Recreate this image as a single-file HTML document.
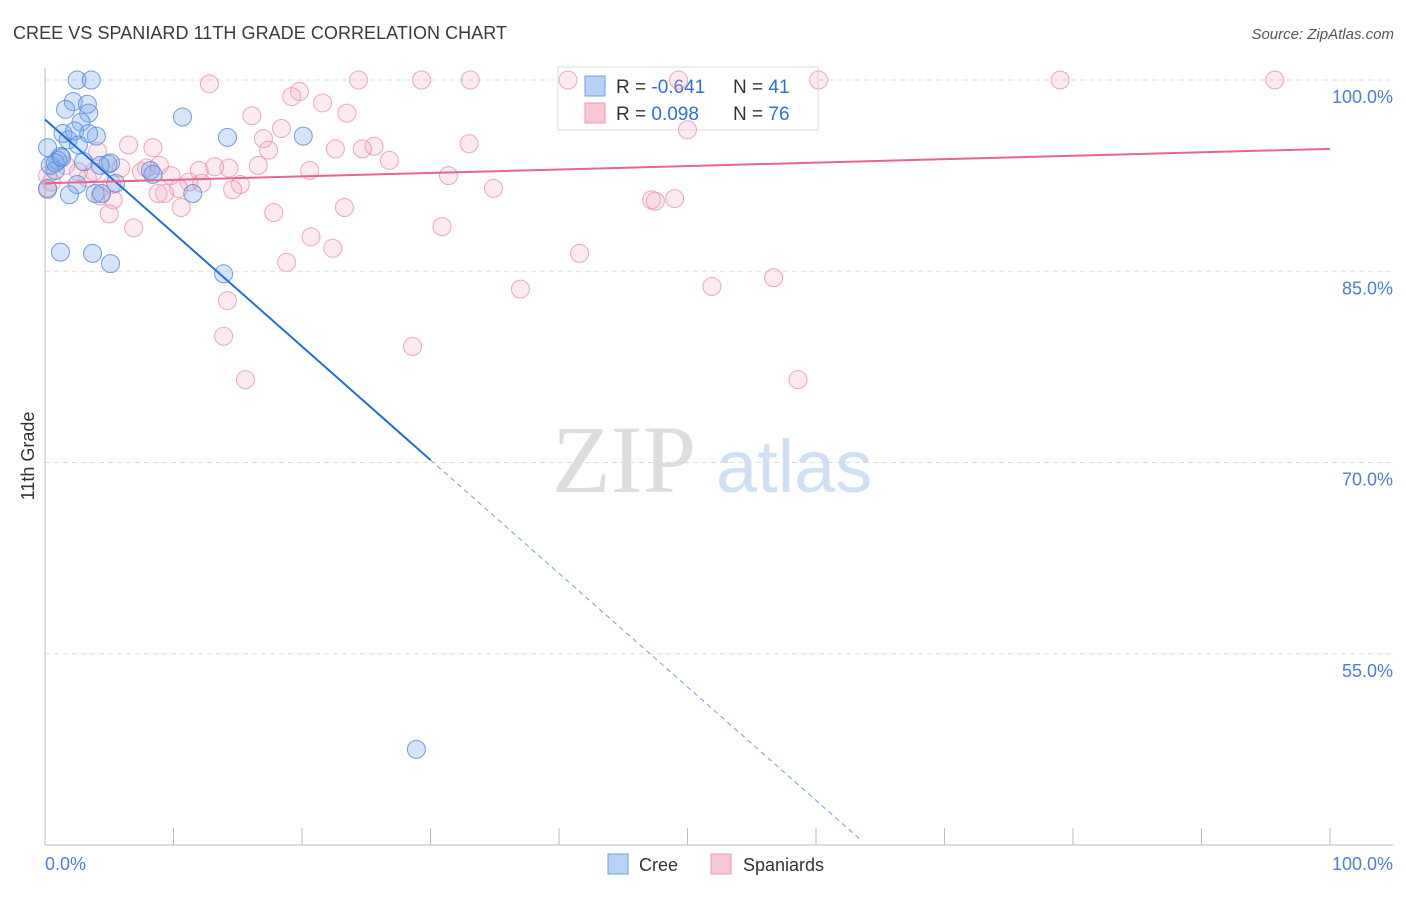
<!DOCTYPE html>
<html><head><meta charset="utf-8"><style>
body{margin:0;background:#fff;font-family:"Liberation Sans",sans-serif;}
</style></head><body>
<svg id="c" width="1406" height="892" xmlns="http://www.w3.org/2000/svg" font-family="Liberation Sans, sans-serif">
<text x="13" y="39" font-size="18" fill="#3a3a3a" textLength="494">CREE VS SPANIARD 11TH GRADE CORRELATION CHART</text>
<text x="1394" y="39" font-size="15" fill="#555" font-style="italic" text-anchor="end">Source: ZipAtlas.com</text>
<g>
<text x="552" y="492" font-size="96" fill="#ddd" style="font-family:'Liberation Serif',serif">ZIP</text>
<text x="716" y="492" font-size="74" fill="#cfe0f5">atlas</text>
</g>
<g id="grid"></g>
<g id="axes"></g>
<g>
<rect x="558" y="67" width="260" height="63" fill="#fff" stroke="#ddd"/>
<rect x="585" y="76" width="20" height="20" fill="#b8d2f5" stroke="#6f9fe0"/>
<rect x="585" y="103" width="20" height="20" fill="#f9c6d6" stroke="#eb99b5"/>
<text x="616" y="93" font-size="19" fill="#333">R = <tspan fill="#2f6fd8">-0.641</tspan></text>
<text x="733" y="93" font-size="19" fill="#333">N = <tspan fill="#2f6fd8">41</tspan></text>
<text x="616" y="120" font-size="19" fill="#333">R = <tspan fill="#2f6fd8"> 0.098</tspan></text>
<text x="733" y="120" font-size="19" fill="#333">N = <tspan fill="#2f6fd8">76</tspan></text>
</g>
<g id="pts"></g>
<g id="lines"></g>
<text x="34" y="456" font-size="18" fill="#333" transform="rotate(-90 34 456)" text-anchor="middle">11th Grade</text>
<text x="45" y="870" font-size="18" fill="#4a7fd4">0.0%</text>
<text x="1393" y="870" font-size="18" fill="#4a7fd4" text-anchor="end">100.0%</text>
<g>
<rect x="608" y="854" width="20" height="20" fill="#b8d2f5" stroke="#6f9fe0"/>
<text x="639" y="871" font-size="18" fill="#333">Cree</text></g>
<g>
<rect x="711" y="854" width="20" height="20" fill="#f9c6d6" stroke="#eb99b5"/>
<text x="743" y="871" font-size="18" fill="#333">Spaniards</text></g>
</svg>
<script>
const yTicks=[100,85,70,55];
const yTickLabels=["100.0%","85.0%","70.0%","55.0%"];
const xTicks=[10,20,30,40,50,60,70,80,90,100];
const creeX=[2.5,3.6,2.2,3.3,1.6,3.4,10.7,2.8,1.4,2.3,4.0,3.4,14.2,20.1,1.8,2.6,0.2,1.2,1.0,3.0,4.9,0.4,0.8,8.2,8.4,5.5,2.5,1.9,3.9,4.4,11.5,0.2,1.2,3.7,5.1,13.9,28.9,0.8,1.3,5.1,4.3];
const creeY=[100,100,98.3,98.1,97.7,97.4,97.1,96.7,95.8,96.0,95.6,95.8,95.5,95.6,95.3,94.9,94.7,94.0,93.7,93.6,93.4,93.3,92.9,92.9,92.6,91.9,91.8,91.0,91.1,91.1,91.1,91.5,86.5,86.4,85.6,84.8,47.5,93.5,93.9,93.5,93.3];
const spanX=[12.8,24.4,29.3,33.1,40.7,49.3,60.2,79.0,95.7,19.8,19.2,21.6,16.1,23.5,18.4,17.0,25.6,17.4,22.6,24.7,26.8,6.5,8.4,4.1,33.0,50.0,34.9,31.4,20.6,14.3,12.0,13.2,16.6,9.8,7.9,5.9,7.5,11.2,12.2,15.2,14.6,10.4,9.3,8.8,5.2,3.3,2.6,1.6,4.3,5.3,10.6,23.3,17.8,5.0,30.9,20.7,6.9,22.4,41.6,18.8,47.2,47.5,49.0,14.2,13.9,37.0,51.9,56.7,28.6,15.6,58.6,0.2,0.5,0.2,8.9,3.8];
const spanY=[99.7,100,100,100,100,100,100,100,100,99.1,98.7,98.2,97.2,97.4,96.2,95.4,94.8,94.5,94.6,94.6,93.7,94.9,94.7,94.4,95.0,96.1,91.5,92.5,92.9,93.1,92.9,93.2,93.3,92.5,93.1,93.1,92.8,92.0,91.9,91.8,91.4,91.5,91.1,91.1,91.8,92.3,92.8,93.3,90.9,90.6,90.0,90.0,89.6,89.5,88.5,87.7,88.4,86.8,86.4,85.7,90.6,90.5,90.7,82.7,79.9,83.6,83.8,84.5,79.1,76.5,76.5,91.4,92.0,92.5,93.3,92.8];
const creeTrend=[96.9,-0.89];
const creeSolidEnd=30, creeDashEnd=63.4;
const spanTrend=[91.9,0.027];
const NS="http://www.w3.org/2000/svg";
const sx=v=>45+v*12.85, sy=v=>80+(100-v)*12.75;
function mk(t,a,p){const e=document.createElementNS(NS,t);for(const k in a)e.setAttribute(k,a[k]);p.appendChild(e);return e;}
const grid=document.getElementById('grid'),axes=document.getElementById('axes'),pts=document.getElementById('pts'),lines=document.getElementById('lines');
yTicks.forEach((t,i)=>{
 const l=mk('line',{x1:45,x2:1393,y1:sy(t),y2:sy(t),stroke:'#ddd','stroke-dasharray':'5,4'},grid);
 
 
 const tx=mk('text',{x:1393,y:sy(t)+23,'font-size':18,fill:'#4a7fd4','text-anchor':'end'},grid);
 tx.textContent=yTickLabels[i];
 
 
});
mk('line',{x1:45,x2:45,y1:68,y2:845,stroke:'#bbb'},axes);
mk('line',{x1:45,x2:1393,y1:845,y2:845,stroke:'#bbb'},axes);
xTicks.forEach(t=>{
 const l=mk('line',{x1:sx(t),x2:sx(t),y1:828,y2:845,stroke:'#bbb'},axes);
 
 
});
spanX.forEach((x,i)=>{
 const c=mk('circle',{cx:sx(x),cy:sy(spanY[i]),r:9,fill:'rgba(243,170,195,0.25)',stroke:'rgba(232,130,165,0.7)','stroke-width':1},pts);
 
 
});
creeX.forEach((x,i)=>{
 const c=mk('circle',{cx:sx(x),cy:sy(creeY[i]),r:9,fill:'rgba(120,165,235,0.3)',stroke:'rgba(80,135,215,0.8)','stroke-width':1},pts);
 
 
});
const cf=x=>creeTrend[0]+creeTrend[1]*x, pf=x=>spanTrend[0]+spanTrend[1]*x;
let l1=mk('line',{x1:sx(0),y1:sy(cf(0)),x2:sx(creeSolidEnd),y2:sy(cf(creeSolidEnd)),stroke:'#1f6fd6','stroke-width':2},lines);


let l2=mk('line',{x1:sx(creeSolidEnd),y1:sy(cf(creeSolidEnd)),x2:sx(creeDashEnd),y2:sy(cf(creeDashEnd)),stroke:'#6f9fe0','stroke-width':1,'stroke-dasharray':'5,4'},lines);


let l3=mk('line',{x1:sx(0),y1:sy(pf(0)),x2:sx(100),y2:sy(pf(100)),stroke:'#e8648f','stroke-width':2},lines);


</script>
</body></html>
